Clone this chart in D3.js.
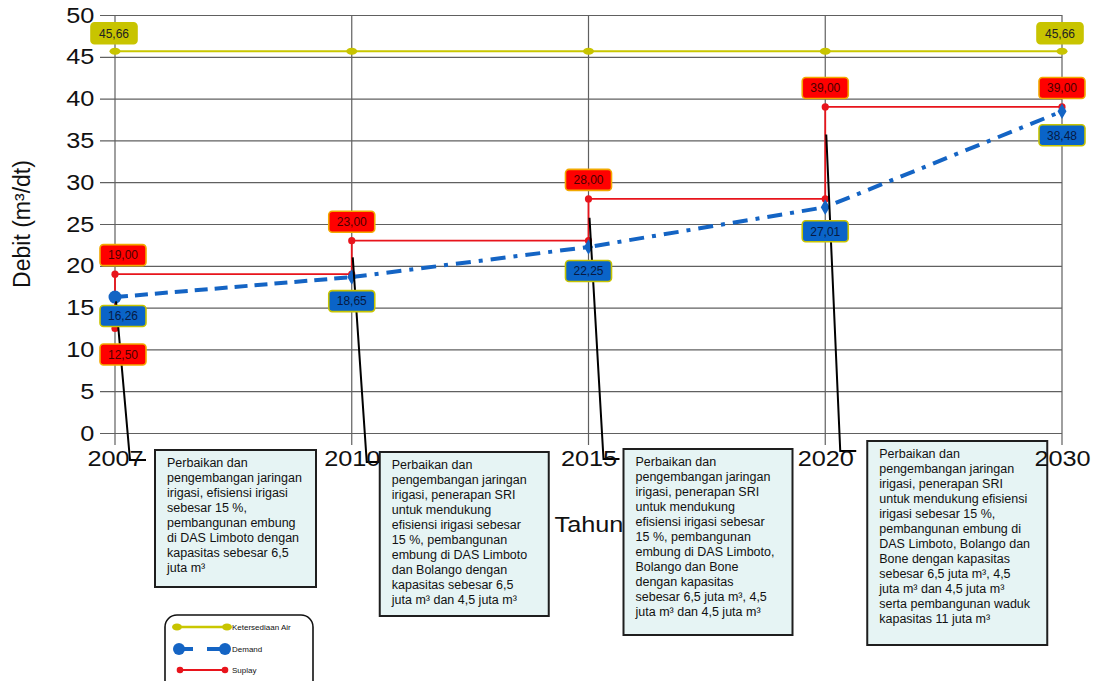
<!DOCTYPE html>
<html>
<head>
<meta charset="utf-8">
<script src="https://cdn.jsdelivr.net/npm/d3@7"></script>
<style>
  html, body { margin: 0; padding: 0; background: #fff; }
  svg { display: block; font-family: "Liberation Sans", Arial, sans-serif; }
</style>
</head>
<body>
<svg id="chart" width="1094" height="681"></svg>
<script>
// Tahun (kategori sumbu X)
const years = ["2007", "2010", "2015", "2020", "2030"];
// Ketersediaan air (m3/dt)
const ketersediaan = [45.66, 45.66, 45.66, 45.66, 45.66];
// Kebutuhan / demand (m3/dt)
const demand = [16.26, 18.65, 22.25, 27.01, 38.48];
// Suplay setelah penanganan pada tiap tahun (m3/dt)
const suplay = [19.00, 23.00, 28.00, 39.00, 39.00];
// Suplay awal sebelum penanganan tahun 2007
const suplayAwal = 12.50;
// Label sumbu Y
const yTicks = [0, 5, 10, 15, 20, 25, 30, 35, 40, 45, 50];

// Keterangan program penanganan per tahap
const noteYears = ["2007", "2010", "2015", "2020"];
const notes = [
  ["Perbaikan dan", "pengembangan jaringan", "irigasi, efisiensi irigasi", "sebesar 15 %,",
   "pembangunan embung", "di DAS Limboto dengan", "kapasitas sebesar 6,5", "juta m³"],
  ["Perbaikan dan", "pengembangan jaringan", "irigasi, penerapan SRI", "untuk mendukung",
   "efisiensi irigasi sebesar", "15 %, pembangunan", "embung di DAS Limboto",
   "dan Bolango dengan", "kapasitas sebesar 6,5", "juta m³ dan 4,5 juta m³"],
  ["Perbaikan dan", "pengembangan jaringan", "irigasi, penerapan SRI", "untuk mendukung",
   "efisiensi irigasi sebesar", "15 %, pembangunan", "embung di DAS Limboto,",
   "Bolango dan Bone", "dengan kapasitas", "sebesar 6,5 juta m³, 4,5", "juta m³ dan 4,5 juta m³"],
  ["Perbaikan dan", "pengembangan jaringan", "irigasi, penerapan SRI", "untuk mendukung efisiensi",
   "irigasi sebesar 15 %,", "pembangunan embung di", "DAS Limboto, Bolango dan",
   "Bone dengan kapasitas", "sebesar 6,5 juta m³, 4,5", "juta m³ dan 4,5 juta m³",
   "serta pembangunan waduk", "kapasitas 11 juta m³"]
];

// Nama seri untuk legenda
const seriesNames = ["Ketersediaan Air", "Demand", "Suplay"];

// ---------- tata letak ----------
const plot = { left: 100, right: 1062, top: 15, bottom: 433 };
const xLeft = 115;
const colors = {
  air: "#c9c700", airLabel: "#c8c400",
  demand: "#1464c4", suplay: "#e8141c",
  grid: "#606060"
};
const noteBox = [
  { dx: 40, top: 450, w: 161, h: 137 },
  { dx: 28, top: 452, w: 169, h: 164 },
  { dx: 35, top: 449, w: 169, h: 186 },
  { dx: 42, top: 441, w: 180, h: 204 }
];
// posisi awal garis penunjuk pada batang vertikal suplay (fraksi dari bawah)
const calloutFrac = [0.5, 0.5, 0.55, 0.7];

const svg = d3.select("#chart");
const x = d3.scalePoint().domain(years).range([xLeft, plot.right]);
const y = d3.scaleLinear().domain([0, 50]).range([plot.bottom, plot.top]);
const fmt = v => d3.format(".2f")(v).replace(".", ",");

// grid horizontal + label Y
const yAxis = d3.axisLeft(y).tickValues(yTicks)
  .tickSizeInner(-(plot.right - plot.left)).tickSizeOuter(0).tickPadding(5);
const gy = svg.append("g").attr("transform", `translate(${plot.left},0)`).call(yAxis);
gy.select(".domain").remove();
gy.selectAll(".tick line").attr("stroke", colors.grid).attr("stroke-width", 1.2);
gy.selectAll(".tick text").attr("fill", "#111").style("font-size", "22px")
  .attr("transform", "scale(1.15,1)");

// grid vertikal + label X
const xAxis = d3.axisBottom(x).tickSizeInner(-(plot.bottom + 12 - plot.top)).tickSizeOuter(0).tickPadding(5);
const gx = svg.append("g").attr("transform", `translate(0,${plot.bottom + 12})`).call(xAxis);
gx.select(".domain").remove();
gx.selectAll(".tick line").attr("stroke", colors.grid).attr("stroke-width", 1.2);
gx.selectAll(".tick text").attr("fill", "#111").style("font-size", "22px")
  .attr("transform", "scale(1.15,1)");

// judul sumbu
svg.append("text").attr("x", 589).attr("y", 532).attr("text-anchor", "middle")
  .style("font-size", "22px").attr("fill", "#111")
  .attr("transform", "translate(589,0) scale(1.15,1) translate(-589,0)")
  .text("Tahun");
svg.append("text").attr("transform", "translate(30,224) rotate(-90)")
  .attr("text-anchor", "middle").style("font-size", "23px").attr("fill", "#111")
  .text("Debit (m³/dt)");

// ---------- Ketersediaan Air ----------
const lineFn = d3.line().x(d => x(d.t)).y(d => y(d.v));
const airPts = years.map((t, i) => ({ t, v: ketersediaan[i] }));
svg.append("path").datum(airPts).attr("d", lineFn)
  .attr("fill", "none").attr("stroke", colors.air).attr("stroke-width", 2);
svg.selectAll(".airDot").data(airPts).join("ellipse")
  .attr("cx", d => x(d.t)).attr("cy", d => y(d.v)).attr("rx", 5.5).attr("ry", 3.5)
  .attr("fill", colors.airLabel);

// ---------- Suplay (garis bertingkat) ----------
const stepPts = [];
years.forEach((t, i) => {
  stepPts.push({ t, v: i === 0 ? suplayAwal : suplay[i - 1] });
  stepPts.push({ t, v: suplay[i] });
});
const uniqueStep = stepPts.filter((d, i) => !(i > 0 && d.t === stepPts[i - 1].t && d.v === stepPts[i - 1].v));
svg.append("path").datum(uniqueStep).attr("d", lineFn)
  .attr("fill", "none").attr("stroke", colors.suplay).attr("stroke-width", 1.8);
svg.selectAll(".supDot").data(uniqueStep).join("circle")
  .attr("cx", d => x(d.t)).attr("cy", d => y(d.v)).attr("r", 3.6)
  .attr("fill", colors.suplay);

// ---------- Demand ----------
const demPts = years.map((t, i) => ({ t, v: demand[i] }));
svg.append("path").datum(demPts.slice(0, 2)).attr("d", lineFn)
  .attr("fill", "none").attr("stroke", colors.demand).attr("stroke-width", 4)
  .attr("stroke-dasharray", "13,7");
svg.append("path").datum(demPts.slice(1)).attr("d", lineFn)
  .attr("fill", "none").attr("stroke", colors.demand).attr("stroke-width", 4)
  .attr("stroke-dasharray", "15,8,4,8");
svg.append("circle").attr("cx", x(demPts[0].t)).attr("cy", y(demPts[0].v)).attr("r", 6.5)
  .attr("fill", colors.demand);
svg.selectAll(".demDot").data(demPts.slice(1)).join("path")
  .attr("transform", d => `translate(${x(d.t)},${y(d.v)})`)
  .attr("d", d3.symbol(d3.symbolDiamond, 70))
  .attr("fill", colors.demand);

// ---------- label nilai ----------
function valueLabel(cx, cy, text, fill, stroke, color) {
  const g = svg.append("g").attr("transform", `translate(${cx},${cy})`);
  g.append("rect").attr("x", -23).attr("y", -10.5).attr("width", 46).attr("height", 21)
    .attr("rx", 3.5).attr("fill", fill).attr("stroke", stroke).attr("stroke-width", 1.6);
  g.append("text").attr("text-anchor", "middle").attr("dy", "0.36em")
    .style("font-size", "12px").attr("fill", color).text(text);
}
const shift = i => (i === 0 ? 8 : 0);

// ketersediaan: awal dan akhir
[0, years.length - 1].forEach(i => {
  valueLabel(x(years[i]) - (i === 0 ? 1 : 2), y(ketersediaan[i]) - 18, fmt(ketersediaan[i]),
    colors.airLabel, colors.airLabel, "#222");
});

// ---------- garis penunjuk keterangan ----------
noteYears.forEach((t, i) => {
  const i0 = years.indexOf(t);
  const prev = i0 === 0 ? suplayAwal : suplay[i0 - 1];
  const x0 = x(t), y0 = y(prev + (suplay[i0] - prev) * calloutFrac[i]);
  const yEnd = noteBox[i].top + 10;
  svg.append("path")
    .attr("d", `M${x0 + 1},${y0} L${x0 + 15},${yEnd} L${x0 + 31},${yEnd}`)
    .attr("fill", "none").attr("stroke", "#000").attr("stroke-width", 2);
});

// suplay
years.forEach((t, i) => {
  valueLabel(x(t) + shift(i), y(suplay[i]) - 19, fmt(suplay[i]), "#ff0000", "#f2a900", "#4a0000");
});
valueLabel(x(years[0]) + shift(0), y(suplayAwal) + 26, fmt(suplayAwal), "#ff0000", "#f2a900", "#4a0000");

// demand
years.forEach((t, i) => {
  valueLabel(x(t) + shift(i), y(demand[i]) + (i === 0 ? 19 : 24), fmt(demand[i]), "#0a64c8", "#c8c400", "#071a44");
});

// ---------- kotak keterangan ----------
noteYears.forEach((t, i) => {
  const b = noteBox[i];
  const bx = x(t) + b.dx;
  const g = svg.append("g");
  g.append("rect").attr("x", bx).attr("y", b.top).attr("width", b.w).attr("height", b.h)
    .attr("fill", "#e6f4f4").attr("stroke", "#1e1e1e").attr("stroke-width", 2);
  const tx = g.append("text").style("font-size", "12.5px").attr("fill", "#111");
  notes[i].forEach((line, k) => {
    tx.append("tspan").attr("x", bx + 12).attr("y", b.top + 17 + k * 15).text(line);
  });
});

// label tahun di atas kotak keterangan
gx.raise();
gx.selectAll(".tick line").remove();
const gxLines = svg.insert("g", ":first-child");
years.forEach(t => {
  gxLines.append("line").attr("x1", x(t)).attr("x2", x(t))
    .attr("y1", plot.top).attr("y2", plot.bottom + 12)
    .attr("stroke", colors.grid).attr("stroke-width", 1.2);
});

// ---------- legenda ----------
const lg = svg.append("g").attr("transform", "translate(165,615)");
lg.append("rect").attr("x", 0).attr("y", 0).attr("width", 148).attr("height", 80)
  .attr("rx", 12).attr("fill", "#fff").attr("stroke", "#111").attr("stroke-width", 1.6);
// ketersediaan
lg.append("line").attr("x1", 12).attr("x2", 62).attr("y1", 12).attr("y2", 12)
  .attr("stroke", colors.air).attr("stroke-width", 2.5);
[12, 62].forEach(cx => lg.append("ellipse").attr("cx", cx).attr("cy", 12).attr("rx", 5).attr("ry", 3.5)
  .attr("fill", colors.airLabel));
// demand
lg.append("line").attr("x1", 14).attr("x2", 60).attr("y1", 34).attr("y2", 34)
  .attr("stroke", colors.demand).attr("stroke-width", 4).attr("stroke-dasharray", "14,14,18");
[14, 60].forEach(cx => lg.append("circle").attr("cx", cx).attr("cy", 34).attr("r", 6)
  .attr("fill", colors.demand));
// suplay
lg.append("line").attr("x1", 15).attr("x2", 60).attr("y1", 55).attr("y2", 55)
  .attr("stroke", colors.suplay).attr("stroke-width", 2);
[15, 60].forEach(cx => lg.append("circle").attr("cx", cx).attr("cy", 55).attr("r", 3.3)
  .attr("fill", colors.suplay));
seriesNames.forEach((n, k) => {
  lg.append("text").attr("x", 67).attr("y", [12, 34, 55][k]).attr("dy", "0.35em")
    .style("font-size", "8px").attr("fill", "#111").text(n);
});
</script>
</body>
</html>
